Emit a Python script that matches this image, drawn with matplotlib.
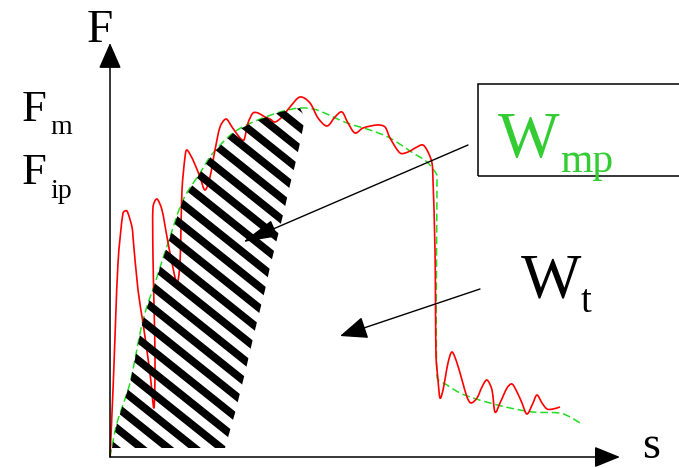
import matplotlib
matplotlib.use('Agg')
import matplotlib.pyplot as plt
from matplotlib.patches import Polygon, Rectangle, PathPatch
from matplotlib.path import Path
import numpy as np

plt.rcParams['font.family'] = ['Liberation Serif', 'DejaVu Serif']

# measured force curve (red), s = displacement, F = force
red_s = [0, 3, 8, 13, 17, 22, 23, 28, 33, 40, 44, 45, 43, 43, 47, 52, 57, 62, 67, 70,
         72, 75, 77, 83, 90, 95, 100, 105, 110, 116, 122, 130, 134, 138, 143, 148, 155, 160, 165, 172,
         180, 190, 200, 208, 217, 225, 232, 238, 245, 253, 267, 275, 280, 290, 298, 307, 313, 318, 322, 323,
         325, 326, 328, 330, 333, 338, 342, 347, 352, 357, 361, 367, 372, 377, 382, 385, 390, 397, 402, 407,
         412, 417, 423, 427, 432, 437, 443, 450]
red_F = [0, 67, 194, 244, 246, 230, 220, 167, 134, 84, 49, 100, 200, 250, 258, 247, 220, 194, 174, 194,
         267, 300, 307, 297, 280, 267, 280, 307, 330, 338, 330, 319, 317, 334, 344, 344, 340, 338, 335, 340,
         350, 360, 354, 339, 331, 340, 345, 334, 324, 329, 332, 330, 319, 304, 305, 310, 312, 305, 294, 277,
         207, 102, 77, 59, 67, 94, 105, 94, 77, 60, 54, 59, 70, 77, 67, 45, 54, 69, 73, 65,
         54, 43, 54, 62, 54, 48, 48, 50]

# smoothed curve (green dashed)
grn_s = [0, 7, 20, 33, 47, 60, 73, 90, 103, 123, 143, 170, 190, 207, 237, 260, 280, 303, 317, 327,
         327, 327, 337, 350, 363, 380, 400, 423, 450, 460, 470]
grn_F = [0, 34, 74, 137, 180, 220, 257, 284, 304, 324, 335, 345, 349, 347, 334, 327, 319, 304, 295, 282,
         277, 80, 72, 64, 59, 54, 49, 45, 44, 40, 34]

# right edge of the hatched area W_mp
edge_s = [195, 190, 185, 180, 175, 165, 160, 155, 145, 135, 125, 115]
edge_F = [339, 314, 292, 272, 250, 210, 190, 167, 127, 84, 44, 9]
floor_F = 9


def cap(t, seg):
    n = np.hypot(*t)
    lim = seg / 3
    if n > lim and n > 0:
        t = t * lim / n
    return t


def smooth_path(x, y):
    # catmull-rom through the points, drawn as bezier segments
    p = np.column_stack([x, y]).astype(float)
    verts = [p[0]]
    codes = [Path.MOVETO]
    n = len(p)
    for i in range(n - 1):
        p0 = p[i - 1] if i > 0 else p[i]
        p1 = p[i]
        p2 = p[i + 1]
        p3 = p[i + 2] if i + 2 < n else p[i + 1]
        seg = np.hypot(*(p2 - p1))
        t1 = cap((p2 - p0) / 6, seg)
        t2 = cap((p3 - p1) / 6, seg)
        verts += [p1 + t1, p2 - t2, p2]
        codes += [Path.CURVE4] * 3
    return Path(verts, codes)


fig = plt.figure(figsize=(6.79, 4.68), dpi=100)
ax = fig.add_axes([0, 0, 1, 1])
ax.set_xlim(-110, 569)
ax.set_ylim(-11, 457)
ax.axis('off')

# hatched region
n_top = sum(1 for v in grn_s if v <= 190)
pts = [(2, floor_F)] + list(zip(grn_s[1:n_top], grn_F[1:n_top])) + list(zip(edge_s, edge_F))
region = Polygon(pts, closed=True, facecolor='none', edgecolor='none')
ax.add_patch(region)
xs = np.array([-20, 260])
for c in np.arange(55.4 - 21.3 * 4, 540, 21.3):
    ax.plot(xs, c - 0.8 * xs, color='black', lw=5.6, solid_capstyle='butt', clip_path=region)

ax.add_patch(PathPatch(smooth_path(grn_s, grn_F), fill=False, edgecolor='#22dd22', lw=1.1,
                       linestyle=(0, (5, 2.5))))
ax.add_patch(PathPatch(smooth_path(red_s, red_F), fill=False, edgecolor='#ff0000', lw=1.2))

# axes with arrows
ax.annotate('', xy=(0, 414), xytext=(0, 0),
            arrowprops=dict(arrowstyle='-|>,head_length=1.6,head_width=0.7', mutation_scale=10,
                            lw=1.1, color='black', shrinkA=0, shrinkB=0))
ax.annotate('', xy=(510, 0), xytext=(0, 0),
            arrowprops=dict(arrowstyle='-|>,head_length=1.6,head_width=0.65', mutation_scale=10,
                            lw=1.1, color='black', shrinkA=0, shrinkB=0))

# pointer arrows
ax.annotate('', xy=(133, 215), xytext=(358, 312),
            arrowprops=dict(arrowstyle='-|>,head_length=2.2,head_width=0.55', mutation_scale=10,
                            lw=1.0, color='black', shrinkA=0, shrinkB=0))
ax.annotate('', xy=(230, 121), xytext=(370, 168),
            arrowprops=dict(arrowstyle='-|>,head_length=1.7,head_width=0.7', mutation_scale=10,
                            lw=1.0, color='black', shrinkA=0, shrinkB=0))

# box around W_mp
ax.add_patch(Rectangle((368, 281), 215, 92, fill=False, lw=1.1, edgecolor='black', clip_on=False))

# labels
ax.text(-23, 415, 'F', fontsize=34, va='baseline')
ax.text(-88, 336, 'F', fontsize=32, va='baseline')
ax.text(-60, 323, 'm', fontsize=20, va='baseline')
ax.text(-88, 273, 'F', fontsize=32, va='baseline')
ax.text(-60, 259, 'ip', fontsize=20, va='baseline')
ax.text(388, 300, 'W', fontsize=47, va='baseline', color='#33cc33')
ax.text(450, 285, 'mp', fontsize=30, va='baseline', color='#33cc33')
ax.text(411, 159, 'W', fontsize=46, va='baseline')
ax.text(471, 145, 't', fontsize=28, va='baseline')
ax.text(532, -1, 's', fontsize=33, va='baseline')

fig.savefig('out.png', dpi=100)
